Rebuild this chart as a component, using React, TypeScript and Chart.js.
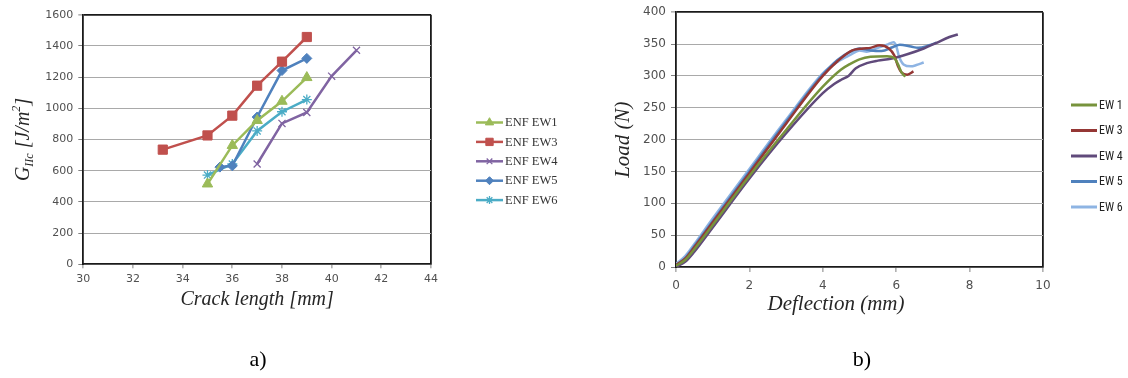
import React, { useEffect, useRef } from 'react';
import { Chart, registerables } from 'chart.js';
import { drawPoint } from 'chart.js/helpers';

Chart.register(...registerables);

// ---------- Chart a) data: G_IIc vs crack length ----------
const ew1Crack = [35, 36, 37, 38, 39];
const ew1G = [515, 762, 922, 1045, 1197];
const ew3Crack = [33.2, 35, 36, 37, 38, 39];
const ew3G = [735, 826, 953, 1145, 1299, 1457];
const ew4Crack = [37, 38, 39, 40, 41];
const ew4G = [643, 903, 973, 1206, 1372];
const ew5Crack = [35.5, 36, 37, 38, 39];
const ew5G = [623, 631, 944, 1242, 1320];
const ew6Crack = [35, 36, 37, 38, 39];
const ew6G = [572, 643, 855, 978, 1056];
const seriesLabelsA = ['ENF EW1', 'ENF EW3', 'ENF EW4', 'ENF EW5', 'ENF EW6'];

// ---------- Chart b) data: load vs deflection ----------
const ew1Defl = [0, 0.25, 0.5, 1, 2, 3, 4, 4.5, 4.75, 5.0, 5.3, 5.75, 5.95, 6.05, 6.15, 6.25];
const ew1Load = [2, 11, 28, 66, 143, 215, 283, 310, 319, 326, 330, 331, 328, 318, 305, 299];
const ew3Defl = [0, 0.25, 0.5, 1, 2, 3, 4, 4.4, 4.8, 5.1, 5.3, 5.55, 5.8, 5.95, 6.05, 6.15, 6.3, 6.47];
const ew3Load = [3, 13, 31, 70, 147, 225, 300, 323, 340, 343, 344, 348, 343, 332, 315, 305, 302, 307];
const ew4Defl = [0, 0.25, 0.5, 1, 2, 3, 4, 4.3, 4.5, 4.7, 4.9, 5.2, 5.5, 5.85, 6.3, 6.75, 7.1, 7.45, 7.68];
const ew4Load = [0, 8, 24, 62, 139, 210, 273, 287, 294, 300, 312, 320, 324, 327, 334, 343, 352, 361, 365];
const ew5Defl = [0, 0.25, 0.5, 1, 2, 3, 4, 4.4, 4.75, 5.0, 5.3, 5.6, 5.9, 6.1, 6.4, 6.6, 6.9, 7.1];
const ew5Load = [3, 14, 33, 72, 150, 228, 302, 325, 338, 343, 340, 339, 345, 349, 346, 344, 348, 352];
const ew6Defl = [0, 0.25, 0.5, 1, 2, 3, 4, 4.4, 4.75, 5.0, 5.2, 5.5, 5.75, 5.93, 6.0, 6.08, 6.2, 6.4, 6.55, 6.75];
const ew6Load = [5, 17, 36, 76, 154, 231, 304, 322, 333, 340, 338, 344, 349, 353, 347, 330, 318, 315, 317, 321];
const seriesLabelsB = ['EW 1', 'EW 3', 'EW 4', 'EW 5', 'EW 6'];

const zip = (xs: number[], ys: number[]) => xs.map((x, i) => ({ x, y: ys[i] }));
const plainTick = (v: any) => String(v);

const TICK_COLOR = '#505050';
const GRID_COLOR = '#a9a9a9';
const FRAME_COLOR = '#1a1a1a';

type Part = { text: string; size: number; dy: number };

function overlayPlugin(cfg: any) {
  return {
    id: 'overlay' + cfg.name,
    afterDraw(chart: any) {
      const ctx: CanvasRenderingContext2D = chart.ctx;
      const a = chart.chartArea;
      ctx.save();
      // legend
      chart.data.datasets.forEach((ds: any, i: number) => {
        const y = cfg.legendY + i * cfg.legendGap;
        ctx.strokeStyle = ds.borderColor;
        ctx.lineWidth = cfg.legendLineWidth;
        ctx.beginPath();
        ctx.moveTo(cfg.legendX, y);
        ctx.lineTo(cfg.legendX + cfg.legendLen, y);
        ctx.stroke();
        if (ds.pointRadius > 0) {
          ctx.fillStyle = ds.pointBackgroundColor;
          ctx.strokeStyle = ds.pointBorderColor;
          ctx.lineWidth = ds.pointBorderWidth;
          drawPoint(ctx, { pointStyle: ds.pointStyle, radius: ds.pointRadius * 0.8, rotation: 0, borderWidth: ds.pointBorderWidth } as any, cfg.legendX + cfg.legendLen / 2, y);
        }
        ctx.fillStyle = cfg.legendColor;
        ctx.font = cfg.legendFont;
        ctx.textAlign = 'left';
        ctx.textBaseline = 'middle';
        ctx.fillText(ds.label, cfg.legendX + cfg.legendLen + 2, y + 0.5);
      });
      // x title
      ctx.fillStyle = '#262626';
      ctx.font = `italic ${cfg.titleSize}px "Liberation Serif", "Times New Roman", serif`;
      ctx.textAlign = 'center';
      ctx.textBaseline = 'middle';
      ctx.fillText(cfg.xTitle, (a.left + a.right) / 2 + cfg.xTitleDx, a.bottom + cfg.xTitleDy);
      // y title (possibly with sub/superscripts)
      ctx.translate(cfg.yTitleX, (a.top + a.bottom) / 2 + cfg.yTitleDy);
      ctx.rotate(-Math.PI / 2);
      const parts: Part[] = cfg.yTitleParts;
      const fontOf = (p: Part) => `italic ${p.size}px "Liberation Serif", "Times New Roman", serif`;
      let total = 0;
      const widths = parts.map((p) => {
        ctx.font = fontOf(p);
        const w = ctx.measureText(p.text).width;
        total += w;
        return w;
      });
      let x = -total / 2;
      ctx.textAlign = 'left';
      ctx.textBaseline = 'alphabetic';
      parts.forEach((p, i) => {
        ctx.font = fontOf(p);
        ctx.fillText(p.text, x, cfg.titleSize * 0.35 + p.dy);
        x += widths[i];
      });
      ctx.restore();
    },
  };
}

function frameGrid(max: number) {
  return (c: any) => (c.tick && c.tick.value === max ? FRAME_COLOR : c.tick && c.tick.value === 0 ? 'rgba(0,0,0,0)' : GRID_COLOR);
}

function buildA(): any {
  const colors = ['#9bbb59', '#c0504d', '#8064a2', '#4f81bd', '#4bacc6'];
  const styles = ['triangle', 'rect', 'crossRot', 'rectRot', 'star'];
  const radii = [6, 6.5, 5, 5, 5];
  const xs = [ew1Crack, ew3Crack, ew4Crack, ew5Crack, ew6Crack];
  const ys = [ew1G, ew3G, ew4G, ew5G, ew6G];
  return {
    type: 'line',
    data: {
      datasets: seriesLabelsA.map((label, i) => ({
        label,
        data: zip(xs[i], ys[i]),
        borderColor: colors[i],
        backgroundColor: colors[i],
        borderWidth: 2.5,
        pointStyle: styles[i],
        pointRadius: radii[i],
        pointBackgroundColor: colors[i],
        pointBorderColor: colors[i],
        pointBorderWidth: styles[i] === 'crossRot' || styles[i] === 'star' ? 1.3 : 1,
        tension: 0,
      })),
    },
    options: {
      responsive: false,
      devicePixelRatio: 1,
      animation: false,
      layout: { padding: { left: 0, top: 14.7, right: 1128 - 431, bottom: 0 } },
      plugins: { legend: { display: false }, tooltip: { enabled: false } },
      scales: {
        x: {
          type: 'linear',
          min: 30,
          max: 44,
          afterFit: (s: any) => { s.height = 378 - 264.3; },
          ticks: { stepSize: 2, callback: plainTick, color: TICK_COLOR, padding: 4, font: { family: '"DejaVu Sans", Verdana, sans-serif', size: 11 } },
          grid: {
            color: (c: any) => (c.tick && c.tick.value === 44 ? FRAME_COLOR : 'rgba(0,0,0,0)'),
            lineWidth: 1.8,
            tickColor: '#808080',
            tickLength: 4,
            tickWidth: 1,
          },
          border: { color: FRAME_COLOR, width: 1.8 },
        },
        y: {
          type: 'linear',
          min: 0,
          max: 1600,
          afterFit: (s: any) => { s.width = 83.3; },
          ticks: { stepSize: 200, callback: plainTick, color: TICK_COLOR, padding: 5, font: { family: '"DejaVu Sans", Verdana, sans-serif', size: 11 } },
          grid: {
            color: frameGrid(1600),
            lineWidth: (c: any) => (c.tick && c.tick.value === 1600 ? 1.8 : 1),
            tickColor: '#808080',
            tickLength: 5,
            tickWidth: 1,
          },
          border: { color: FRAME_COLOR, width: 1.8 },
        },
      },
    },
    plugins: [
      overlayPlugin({
        name: 'A',
        legendX: 476,
        legendY: 122.5,
        legendGap: 19.4,
        legendLen: 27,
        legendLineWidth: 2.5,
        legendFont: '12.5px "Liberation Serif", "Times New Roman", serif',
        legendColor: '#333333',
        titleSize: 20,
        xTitle: 'Crack length [mm]',
        xTitleDx: 0,
        xTitleDy: 35,
        yTitleX: 22,
        yTitleDy: 0,
        yTitleParts: [
          { text: 'G', size: 20, dy: 0 },
          { text: 'IIc', size: 12, dy: 4 },
          { text: ' [J/m', size: 20, dy: 0 },
          { text: '2', size: 12, dy: -9 },
          { text: ']', size: 20, dy: 0 },
        ],
      }),
    ],
  };
}

function buildB(): any {
  const colors = ['#77933c', '#953735', '#604a7b', '#4f81bd', '#8eb4e3'];
  const xs = [ew1Defl, ew3Defl, ew4Defl, ew5Defl, ew6Defl];
  const ys = [ew1Load, ew3Load, ew4Load, ew5Load, ew6Load];
  return {
    type: 'line',
    data: {
      datasets: seriesLabelsB.map((label, i) => ({
        label,
        data: zip(xs[i], ys[i]),
        borderColor: colors[i],
        backgroundColor: colors[i],
        borderWidth: 2.5,
        pointRadius: 0,
        cubicInterpolationMode: 'monotone',
      })),
    },
    options: {
      responsive: false,
      devicePixelRatio: 1,
      animation: false,
      layout: { padding: { left: 0, top: 11, right: 1128 - 1043, bottom: 0 } },
      plugins: { legend: { display: false }, tooltip: { enabled: false } },
      scales: {
        x: {
          type: 'linear',
          min: 0,
          max: 10,
          afterFit: (s: any) => { s.height = 378 - 267; },
          ticks: { stepSize: 2, callback: plainTick, color: TICK_COLOR, padding: 7, font: { family: '"DejaVu Sans", Verdana, sans-serif', size: 12 } },
          grid: {
            color: (c: any) => (c.tick && c.tick.value === 10 ? FRAME_COLOR : 'rgba(0,0,0,0)'),
            lineWidth: 1.8,
            tickColor: '#808080',
            tickLength: 5,
            tickWidth: 1,
          },
          border: { color: FRAME_COLOR, width: 1.8 },
        },
        y: {
          type: 'linear',
          min: 0,
          max: 400,
          afterFit: (s: any) => { s.width = 676; },
          ticks: { stepSize: 50, callback: plainTick, color: TICK_COLOR, padding: 5, font: { family: '"DejaVu Sans", Verdana, sans-serif', size: 12 } },
          grid: {
            color: frameGrid(400),
            lineWidth: (c: any) => (c.tick && c.tick.value === 400 ? 1.8 : 1),
            tickColor: '#808080',
            tickLength: 5,
            tickWidth: 1,
          },
          border: { color: FRAME_COLOR, width: 1.8 },
        },
      },
    },
    plugins: [
      overlayPlugin({
        name: 'B',
        legendX: 1071,
        legendY: 105,
        legendGap: 25.5,
        legendLen: 26,
        legendLineWidth: 3,
        legendFont: '12px "Liberation Sans Narrow", "Roboto Condensed", Lato, sans-serif',
        legendColor: '#222222',
        titleSize: 21,
        xTitle: 'Deflection (mm)',
        xTitleDx: -23.5,
        xTitleDy: 37,
        yTitleX: 622,
        yTitleDy: 0,
        yTitleParts: [{ text: 'Load (N)', size: 21, dy: 0 }],
      }),
    ],
  };
}

export default function App() {
  const refA = useRef<HTMLCanvasElement>(null);
  const refB = useRef<HTMLCanvasElement>(null);
  useEffect(() => {
    const ca = new Chart(refA.current as HTMLCanvasElement, buildA());
    const cb = new Chart(refB.current as HTMLCanvasElement, buildB());
    return () => {
      ca.destroy();
      cb.destroy();
    };
  }, []);
  const layer: React.CSSProperties = { position: 'absolute', left: 0, top: 0, width: 1128, height: 378 };
  const caption: React.CSSProperties = {
    position: 'absolute',
    top: 359,
    transform: 'translate(-50%, -50%)',
    font: '22px "Liberation Serif", "Times New Roman", serif',
    color: '#000',
    whiteSpace: 'nowrap',
  };
  return (
    <div style={{ position: 'fixed', left: 0, top: 0, width: 1128, height: 378, background: '#fff', overflow: 'hidden' }}>
      <div style={layer}>
        <canvas ref={refA} width={1128} height={378} style={{ display: 'block' }} />
      </div>
      <div style={layer}>
        <canvas ref={refB} width={1128} height={378} style={{ display: 'block' }} />
      </div>
      <div style={{ ...caption, left: 258 }}>a)</div>
      <div style={{ ...caption, left: 862 }}>b)</div>
    </div>
  );
}
